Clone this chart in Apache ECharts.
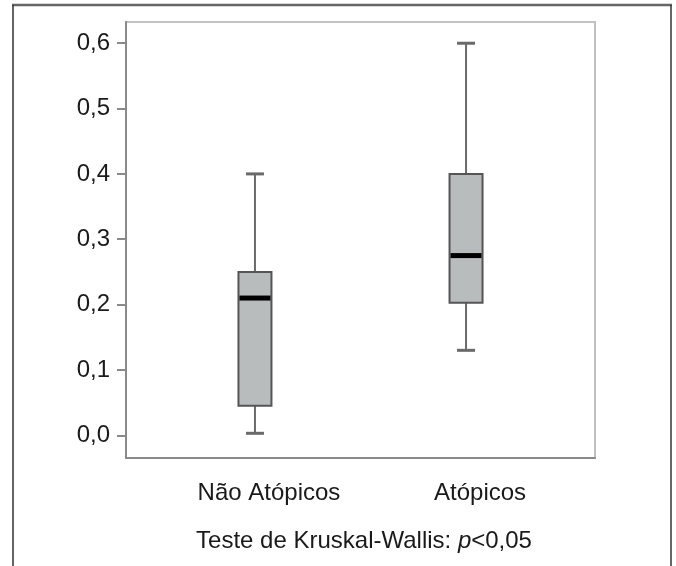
<!DOCTYPE html>
<html>
<head>
<meta charset="utf-8">
<script src="https://cdn.jsdelivr.net/npm/echarts@6/dist/echarts.min.js"></script>
<style>html,body{margin:0;padding:0;background:#fff}#c{width:676px;height:566px}</style>
</head>
<body>
<div id="c"></div>
<script>
const categories = ['Não Atópicos', 'Atópicos'];
// [min, Q1, median, Q3, max]
const naoAtopicos = [0.003, 0.045, 0.21, 0.25, 0.40];
const atopicos = [0.13, 0.203, 0.275, 0.40, 0.60];
const yTicks = [0, 0.1, 0.2, 0.3, 0.4, 0.5, 0.6];
const caption = 'Teste de Kruskal-Wallis: ';

const boxes = [naoAtopicos, atopicos];
const data = boxes.map((b, i) => [i].concat(b));
const font = 'Liberation Sans, Arial, sans-serif';
const chart = echarts.init(document.getElementById('c'));

chart.setOption({
  animation: false,
  grid: { left: 126, right: 81, top: 22, bottom: 108, show: true, borderColor: '#c2c2c2', borderWidth: 2, backgroundColor: 'transparent' },
  xAxis: {
    type: 'value', min: -0.611, max: 1.611,
    axisLine: { onZero: false, lineStyle: { color: '#8a8a8a', width: 2 } },
    axisTick: { show: false },
    splitLine: { show: false },
    axisLabel: { customValues: [0, 1], formatter: v => categories[Math.round(v)], color: '#1a1a1a', fontSize: 24, fontFamily: font, margin: 23, padding: [0, 0, 0, 28] }
  },
  yAxis: {
    type: 'value', min: -0.0348, max: 0.6325,
    axisLine: { show: true, onZero: false, lineStyle: { color: '#8a8a8a', width: 2 } },
    axisTick: { show: true, customValues: yTicks, length: 9, lineStyle: { color: '#8a8a8a', width: 2 } },
    splitLine: { show: false },
    axisLabel: { customValues: yTicks, formatter: v => v.toFixed(1).replace('.', ','), color: '#1a1a1a', fontSize: 24, fontFamily: font, margin: 16, padding: [3, 0, 0, 0] }
  },
  series: [{
    type: 'custom',
    data: data,
    encode: { x: 0, y: [1, 2, 3, 4, 5] },
    renderItem: function (params, api) {
      const x = api.value(0);
      const pMin = api.coord([x, api.value(1)]);
      const pQ1 = api.coord([x, api.value(2)]);
      const pMed = api.coord([x, api.value(3)]);
      const pQ3 = api.coord([x, api.value(4)]);
      const pMax = api.coord([x, api.value(5)]);
      const cx = pMin[0];
      const bw = 33, cw = 18;
      const wStyle = { stroke: '#6a6a6a', lineWidth: 2 };
      return {
        type: 'group',
        children: [
          { type: 'line', shape: { x1: cx, y1: pMax[1], x2: cx, y2: pQ3[1] }, style: wStyle },
          { type: 'line', shape: { x1: cx, y1: pQ1[1], x2: cx, y2: pMin[1] }, style: wStyle },
          { type: 'line', shape: { x1: cx - cw / 2, y1: pMax[1], x2: cx + cw / 2, y2: pMax[1] }, style: { stroke: '#6a6a6a', lineWidth: 3 } },
          { type: 'line', shape: { x1: cx - cw / 2, y1: pMin[1], x2: cx + cw / 2, y2: pMin[1] }, style: { stroke: '#6a6a6a', lineWidth: 3 } },
          { type: 'rect', shape: { x: cx - bw / 2, y: pQ3[1], width: bw, height: pQ1[1] - pQ3[1] }, style: { fill: '#b8bcbc', stroke: '#555', lineWidth: 2 } },
          { type: 'line', shape: { x1: cx - bw / 2 + 1, y1: pMed[1], x2: cx + bw / 2 - 1, y2: pMed[1] }, style: { stroke: '#000', lineWidth: 5 } }
        ]
      };
    }
  }],
  graphic: [
    { type: 'line', shape: { x1: 12, y1: 5, x2: 672, y2: 5 }, style: { stroke: '#666', lineWidth: 2.5 } },
    { type: 'line', shape: { x1: 13, y1: 5, x2: 13, y2: 570 }, style: { stroke: '#333', lineWidth: 1.5 } },
    { type: 'line', shape: { x1: 671, y1: 5, x2: 671, y2: 570 }, style: { stroke: '#333', lineWidth: 1.5 } },
    {
      type: 'text', x: 364, y: 541,
      style: {
        text: '{n|' + caption + '}{i|p}{n|<0,05}',
        align: 'center', verticalAlign: 'middle',
        rich: {
          n: { fontSize: 24, fontFamily: font, fill: '#1a1a1a' },
          i: { fontSize: 24, fontFamily: font, fill: '#1a1a1a', fontStyle: 'italic' }
        }
      }
    }
  ]
});
</script>
</body>
</html>
